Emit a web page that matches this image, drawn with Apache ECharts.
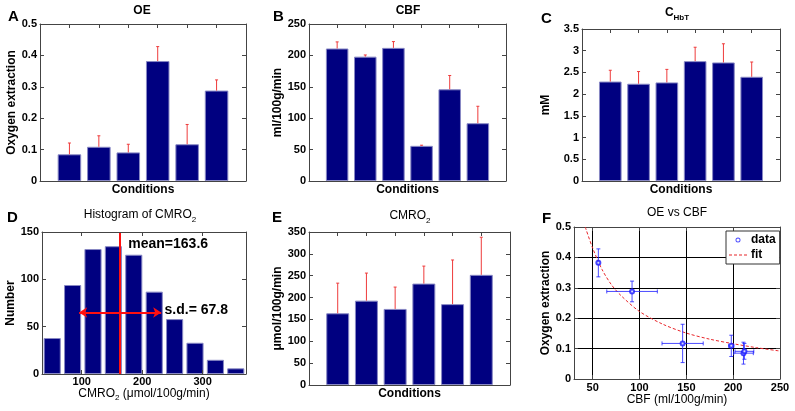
<!DOCTYPE html>
<html>
<head>
<meta charset="utf-8">
<script src="https://cdn.jsdelivr.net/npm/echarts@6/dist/echarts.min.js"></script>
<style>
  html, body { margin: 0; padding: 0; background: #fff; }
  #chart { width: 795px; height: 411px; }
</style>
</head>
<body>
<div id="chart"></div>
<script>
// values
const conditions = [1, 2, 3, 4, 5, 6];
const oeMean = [0.085, 0.109, 0.091, 0.382, 0.117, 0.288];
const oeErr = [0.036, 0.035, 0.026, 0.046, 0.063, 0.034];
const cbfMean = [211, 198, 212, 56, 146, 92];
const cbfErr = [10.5, 2.7, 10, 1, 22, 27];
const chbtMean = [2.29, 2.24, 2.27, 2.76, 2.73, 2.40];
const chbtErr = [0.26, 0.28, 0.30, 0.32, 0.43, 0.34];
const cmroMean = [164, 193, 174, 232, 185, 252];
const cmroErr = [69, 63, 50, 40, 101, 86];

// histogram of CMRO2
const histCenters = [51.3, 85.0, 118.7, 152.4, 186.1, 219.9, 253.6, 287.3, 321.0, 354.7];
const histCounts = [38, 94, 132, 135, 126, 87, 58, 33, 15, 6];
const histTicks = [100, 200, 300];
const histMean = 163.6;
const histSd = 67.8;

// fitted curve in panel F
const fitCbf = [42, 50, 60, 70, 80, 100, 125, 150, 175, 200, 225, 250];
const fitOe = [0.50, 0.43, 0.36, 0.31, 0.275, 0.222, 0.18, 0.151, 0.131, 0.116, 0.103, 0.092];
const cbfTicks = [50, 100, 150, 200, 250];

const FONT = '"Liberation Sans", Arial, sans-serif';
const navy = '#000080';
const barEdge = '#8888c4';
const errRed = '#ee3b3b';
const frame = '#444';

const grids = [], xAxes = [], yAxes = [], series = [];

function merge(base, extra) {
  const out = Object.assign({}, base);
  for (const k in extra) {
    const v = extra[k];
    if (v && typeof v === 'object' && !Array.isArray(v) && base[k] && typeof base[k] === 'object') {
      out[k] = Object.assign({}, base[k], v);
    } else {
      out[k] = v;
    }
  }
  return out;
}

function nameStyle(weight) {
  return {
    color: '#000', fontFamily: FONT, fontWeight: weight || 'bold', fontSize: 12,
    rich: {
      a: { fontFamily: FONT, fontSize: 12, fontWeight: weight || 'bold', lineHeight: 16 },
      s: { fontFamily: FONT, fontSize: 8, fontWeight: weight || 'bold', lineHeight: 9, verticalAlign: 'bottom' }
    }
  };
}

// one panel = grid + bottom/left axes + mirrored top/right axes (ticks only)
function panel(box, xOpt, yOpt) {
  const g = grids.length;
  grids.push({ left: box[0], top: box[1], width: box[2], height: box[3], outerBoundsMode: 'none' });
  const common = {
    gridIndex: g, type: 'value', z: 5,
    axisLine: { show: true, onZero: false, lineStyle: { color: frame, width: 1 } },
    axisTick: { show: true, inside: true, length: 4, lineStyle: { color: frame } },
    axisLabel: { margin: 3, color: '#000', fontFamily: FONT, fontWeight: 'bold', fontSize: 11 },
    splitLine: { show: false },
    nameLocation: 'middle',
    nameTextStyle: nameStyle('bold')
  };
  const xi = xAxes.length, yi = yAxes.length;
  const xMain = merge(merge(common, { position: 'bottom' }), xOpt);
  const yMain = merge(merge(common, { position: 'left' }), yOpt);
  xAxes.push(xMain);
  yAxes.push(yMain);
  xAxes.push(merge(xMain, { position: 'top', name: '', axisLabel: { show: false }, axisTick: { show: true }, splitLine: { show: false } }));
  yAxes.push(merge(yMain, { position: 'right', name: '', axisLabel: { show: false }, axisTick: { show: true }, splitLine: { show: false } }));
  return [xi, yi];
}

function upErrors(xi, yi, rows) {
  return {
    type: 'custom', xAxisIndex: xi, yAxisIndex: yi, z: 3, silent: true, data: rows,
    renderItem: function (params, api) {
      const x = api.value(0), y = api.value(1), e = api.value(2);
      const p0 = api.coord([x, y]), p1 = api.coord([x, y + e]);
      const st = { stroke: errRed, lineWidth: 1 };
      return {
        type: 'group', children: [
          { type: 'line', shape: { x1: p0[0], y1: p0[1], x2: p1[0], y2: p1[1] }, style: st },
          { type: 'line', shape: { x1: p1[0] - 1.5, y1: p1[1], x2: p1[0] + 1.5, y2: p1[1] }, style: st }
        ]
      };
    }
  };
}

function xyErrors(xi, yi, rows, color) {
  return {
    type: 'custom', xAxisIndex: xi, yAxisIndex: yi, z: 4, silent: true, data: rows,
    renderItem: function (params, api) {
      const x = api.value(0), y = api.value(1), ex = api.value(2), ey = api.value(3);
      const lo = api.coord([x, y - ey]), hi = api.coord([x, y + ey]);
      const l = api.coord([x - ex, y]), r = api.coord([x + ex, y]);
      const st = { stroke: color, lineWidth: 1 };
      const c = 2;
      return {
        type: 'group', children: [
          { type: 'line', shape: { x1: lo[0], y1: lo[1], x2: hi[0], y2: hi[1] }, style: st },
          { type: 'line', shape: { x1: lo[0] - c, y1: lo[1], x2: lo[0] + c, y2: lo[1] }, style: st },
          { type: 'line', shape: { x1: hi[0] - c, y1: hi[1], x2: hi[0] + c, y2: hi[1] }, style: st },
          { type: 'line', shape: { x1: l[0], y1: l[1], x2: r[0], y2: r[1] }, style: st },
          { type: 'line', shape: { x1: l[0], y1: l[1] - c, x2: l[0], y2: l[1] + c }, style: st },
          { type: 'line', shape: { x1: r[0], y1: r[1] - c, x2: r[0], y2: r[1] + c }, style: st }
        ]
      };
    }
  };
}

function barPanel(box, means, errs, yOpt) {
  const ax = panel(box,
    { min: 0, max: 7, interval: 1, axisLabel: { show: false }, axisTick: { show: false }, name: 'Conditions', nameGap: 3 },
    yOpt);
  series.push({
    type: 'bar', xAxisIndex: ax[0], yAxisIndex: ax[1], barWidth: '80%',
    itemStyle: { color: navy, borderColor: barEdge, borderWidth: 1 },
    data: conditions.map((c, i) => [c, means[i]])
  });
  series.push(upErrors(ax[0], ax[1], conditions.map((c, i) => [c, means[i], errs[i]])));
}

// A, B, C
barPanel([40, 24, 206, 157], oeMean, oeErr, { min: 0, max: 0.5, interval: 0.1, name: 'Oxygen extraction', nameGap: 22 });
barPanel([309, 24, 197, 157], cbfMean, cbfErr, { min: 0, max: 250, interval: 50, name: 'ml/100g/min', nameGap: 24 });
barPanel([582, 29, 198, 152], chbtMean, chbtErr, { min: 0, max: 3.5, interval: 0.5, name: 'mM', nameGap: 30 });

// D histogram
const axD = panel([42, 232, 204, 142],
  {
    min: 34.4, max: 371.6,
    axisLabel: { customValues: histTicks, margin: 2 },
    axisTick: { customValues: histTicks },
    name: '{a|CMRO}{s|2}{a| (μmol/100g/min)}', nameGap: 12, nameTextStyle: nameStyle('normal')
  },
  { min: 0, max: 150, interval: 50, name: 'Number', nameGap: 23 });
series.push({
  type: 'bar', xAxisIndex: axD[0], yAxisIndex: axD[1], barWidth: '84%',
  itemStyle: { color: navy, borderColor: barEdge, borderWidth: 1 },
  data: histCenters.map((c, i) => [c, histCounts[i]]),
  markLine: {
    silent: true, symbol: ['none', 'none'], label: { show: false },
    lineStyle: { color: '#ff1010', width: 2, type: 'solid' },
    data: [
      { xAxis: histMean },
      [
        { coord: [histMean - histSd, 65], symbol: 'arrow', symbolSize: 8 },
        { coord: [histMean + histSd, 65], symbol: 'arrow', symbolSize: 8 }
      ]
    ]
  },
  markPoint: {
    silent: true, symbol: 'circle', symbolSize: 0,
    label: { show: true, position: 'right', distance: 0, color: '#000', fontFamily: FONT, fontWeight: 'bold', fontSize: 14 },
    data: [
      { coord: [177, 137], label: { formatter: 'mean=' + histMean } },
      { coord: [237, 67], label: { formatter: 's.d.= ' + histSd } }
    ]
  }
});

// E
barPanel([309, 232, 201, 153], cmroMean, cmroErr, { min: 0, max: 350, interval: 50, name: 'μmol/100g/min', nameGap: 24 });

// F OE vs CBF
const gridLine = { show: true, lineStyle: { color: '#000', width: 1 } };
const axF = panel([574, 227, 206, 152],
  {
    min: 30, max: 250, z: 1,
    axisLabel: { customValues: cbfTicks, margin: 3 },
    axisTick: { customValues: cbfTicks },
    splitLine: gridLine,
    name: 'CBF (ml/100g/min)', nameGap: 8, nameTextStyle: nameStyle('normal')
  },
  { min: 0, max: 0.5, interval: 0.1, z: 1, splitLine: gridLine, name: 'Oxygen extraction', nameGap: 22 });
series.push({
  name: 'fit', type: 'line', xAxisIndex: axF[0], yAxisIndex: axF[1], z: 3,
  smooth: 0.3, showSymbol: false, symbol: 'none', silent: true,
  lineStyle: { color: '#e8262b', width: 1, type: [3, 2] },
  itemStyle: { color: '#e8262b' },
  data: fitCbf.map((x, i) => [x, fitOe[i]])
});
series.push(xyErrors(axF[0], axF[1], cbfMean.map((x, i) => [x, oeMean[i], cbfErr[i], oeErr[i]]), 'rgba(30,30,255,0.8)'));
series.push({
  name: 'data', type: 'scatter', xAxisIndex: axF[0], yAxisIndex: axF[1], z: 5,
  symbol: 'emptyCircle', symbolSize: 4,
  itemStyle: { color: '#1a1aff', borderColor: '#1a1aff', borderWidth: 1 },
  data: cbfMean.map((x, i) => [x, oeMean[i]])
});

function label(x, y, text, size, weight, align) {
  return {
    type: 'text', x: x, y: y, silent: true,
    style: {
      text: text, fill: '#000', align: align || 'center', verticalAlign: 'middle',
      font: (weight || 'bold') + ' ' + size + 'px ' + FONT,
      rich: {
        a: { fontFamily: FONT, fontSize: size, fontWeight: weight || 'bold', lineHeight: 17 },
        s: { fontFamily: FONT, fontSize: 8, fontWeight: weight || 'bold', lineHeight: 9, verticalAlign: 'bottom' }
      }
    }
  };
}

// legend icons: thin ring for the data points, dashed stroke for the fit
const ringIcon = 'path://M0,2.5 a2.5,2.5 0 1,0 5,0 a2.5,2.5 0 1,0 -5,0 Z M0.9,2.5 a1.6,1.6 0 1,1 3.2,0 a1.6,1.6 0 1,1 -3.2,0 Z';
const dashIcon = 'path://M0,0h3v1h-3z M5,0h3v1h-3z M10,0h3v1h-3z M15,0h3v1h-3z';

const myChart = echarts.init(document.getElementById('chart'), null, { renderer: 'canvas' });
const option = {
  animation: false,
  backgroundColor: '#fff',
  textStyle: { fontFamily: FONT },
  grid: grids,
  xAxis: xAxes,
  yAxis: yAxes,
  legend: {
    data: [{ name: 'data', icon: ringIcon }, { name: 'fit', icon: dashIcon }],
    orient: 'vertical', left: 726, top: 231,
    padding: [3, 4, 3, 3], itemGap: 3, itemWidth: 18, itemHeight: 5,
    itemStyle: { borderWidth: 0 },
    backgroundColor: '#fff', borderColor: '#333', borderWidth: 1,
    textStyle: { color: '#000', fontFamily: FONT, fontWeight: 'bold', fontSize: 12, padding: [0, 0, 0, -1] },
    selectedMode: false
  },
  graphic: [
    label(8, 17, 'A', 15, 'bold', 'left'),
    label(273, 17, 'B', 15, 'bold', 'left'),
    label(541, 19, 'C', 15, 'bold', 'left'),
    label(7, 218, 'D', 15, 'bold', 'left'),
    label(272, 218, 'E', 15, 'bold', 'left'),
    label(542, 219, 'F', 15, 'bold', 'left'),
    label(142, 11, 'OE', 12, 'bold'),
    label(408, 11, 'CBF', 12, 'bold'),
    label(677, 13, '{a|C}{s|HbT}', 12, 'bold'),
    label(140, 215, '{a|Histogram of CMRO}{s|2}', 12, 'normal'),
    label(410, 216, '{a|CMRO}{s|2}', 12, 'normal'),
    label(677, 213, 'OE vs CBF', 12, 'normal')
  ],
  series: series
};
myChart.setOption(option);

window.addEventListener('resize', () => {
  myChart.resize();
});
</script>
</body>
</html>
